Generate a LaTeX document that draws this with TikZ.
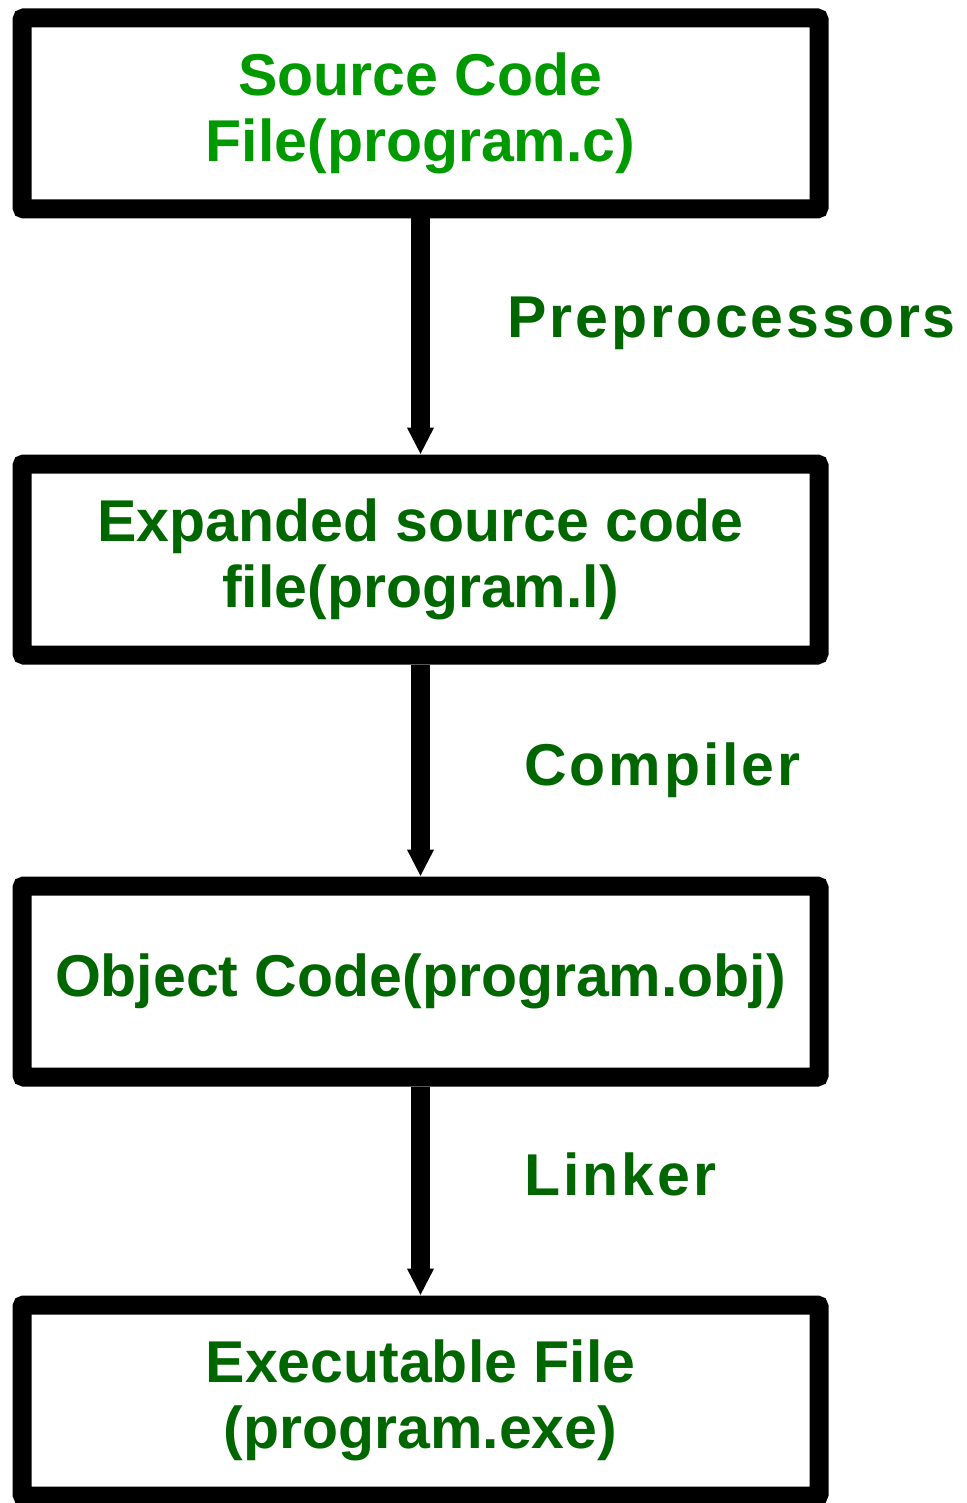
\documentclass[tikz,border=0pt]{standalone}
\usepackage{fontspec}
\setmainfont{Liberation Sans}
\newfontfamily\lblfont[LetterSpace=5]{Liberation Sans}
\usetikzlibrary{arrows.meta,positioning}
\definecolor{srcgreen}{RGB}{0,153,0}
\definecolor{darkgreen}{RGB}{0,102,0}
\tikzset{
    raw stage/.style={rectangle, draw, black, line width=19pt, rounded corners=2pt, minimum width=797pt, minimum height=191pt, align=center, inner sep=0pt},
    stage/.style={raw stage, text=darkgreen, font=\bfseries\fontsize{59}{66}\selectfont},
    first stage/.style={stage, text=srcgreen},
    tool/.style={text=darkgreen, font=\lblfont\bfseries\fontsize{59}{66}\selectfont, anchor=base west, inner sep=0pt},
    flow/.style={line width=19pt, -{Triangle[width=25pt,length=27pt]}}
}
\begin{document}
\begin{tikzpicture}[x=1pt, y=1pt]
    \useasboundingbox (0,0) rectangle (966,-1503);
    \node[first stage] (src) at (420.5,-113.5) {Source Code\\File(program.c)};
    \node[stage, below=236pt of src] (exp) {Expanded source code\\file(program.l)};
    \node[stage, below=212pt of exp] (obj) {Object Code(program.obj)};
    \node[stage, below=209pt of obj] (exe) {Executable File\\(program.exe)};
    \draw[flow] (src) -- (exp);
    \draw[flow] (exp) -- (obj);
    \draw[flow] (obj) -- (exe);
    \node[tool] (pre) at (507,-337) {Preprocessors};
    \node[tool] (cmp) at (524,-785) {Compiler};
    \node[tool] (lnk) at (524,-1195) {Linker};
\end{tikzpicture}
\end{document}
